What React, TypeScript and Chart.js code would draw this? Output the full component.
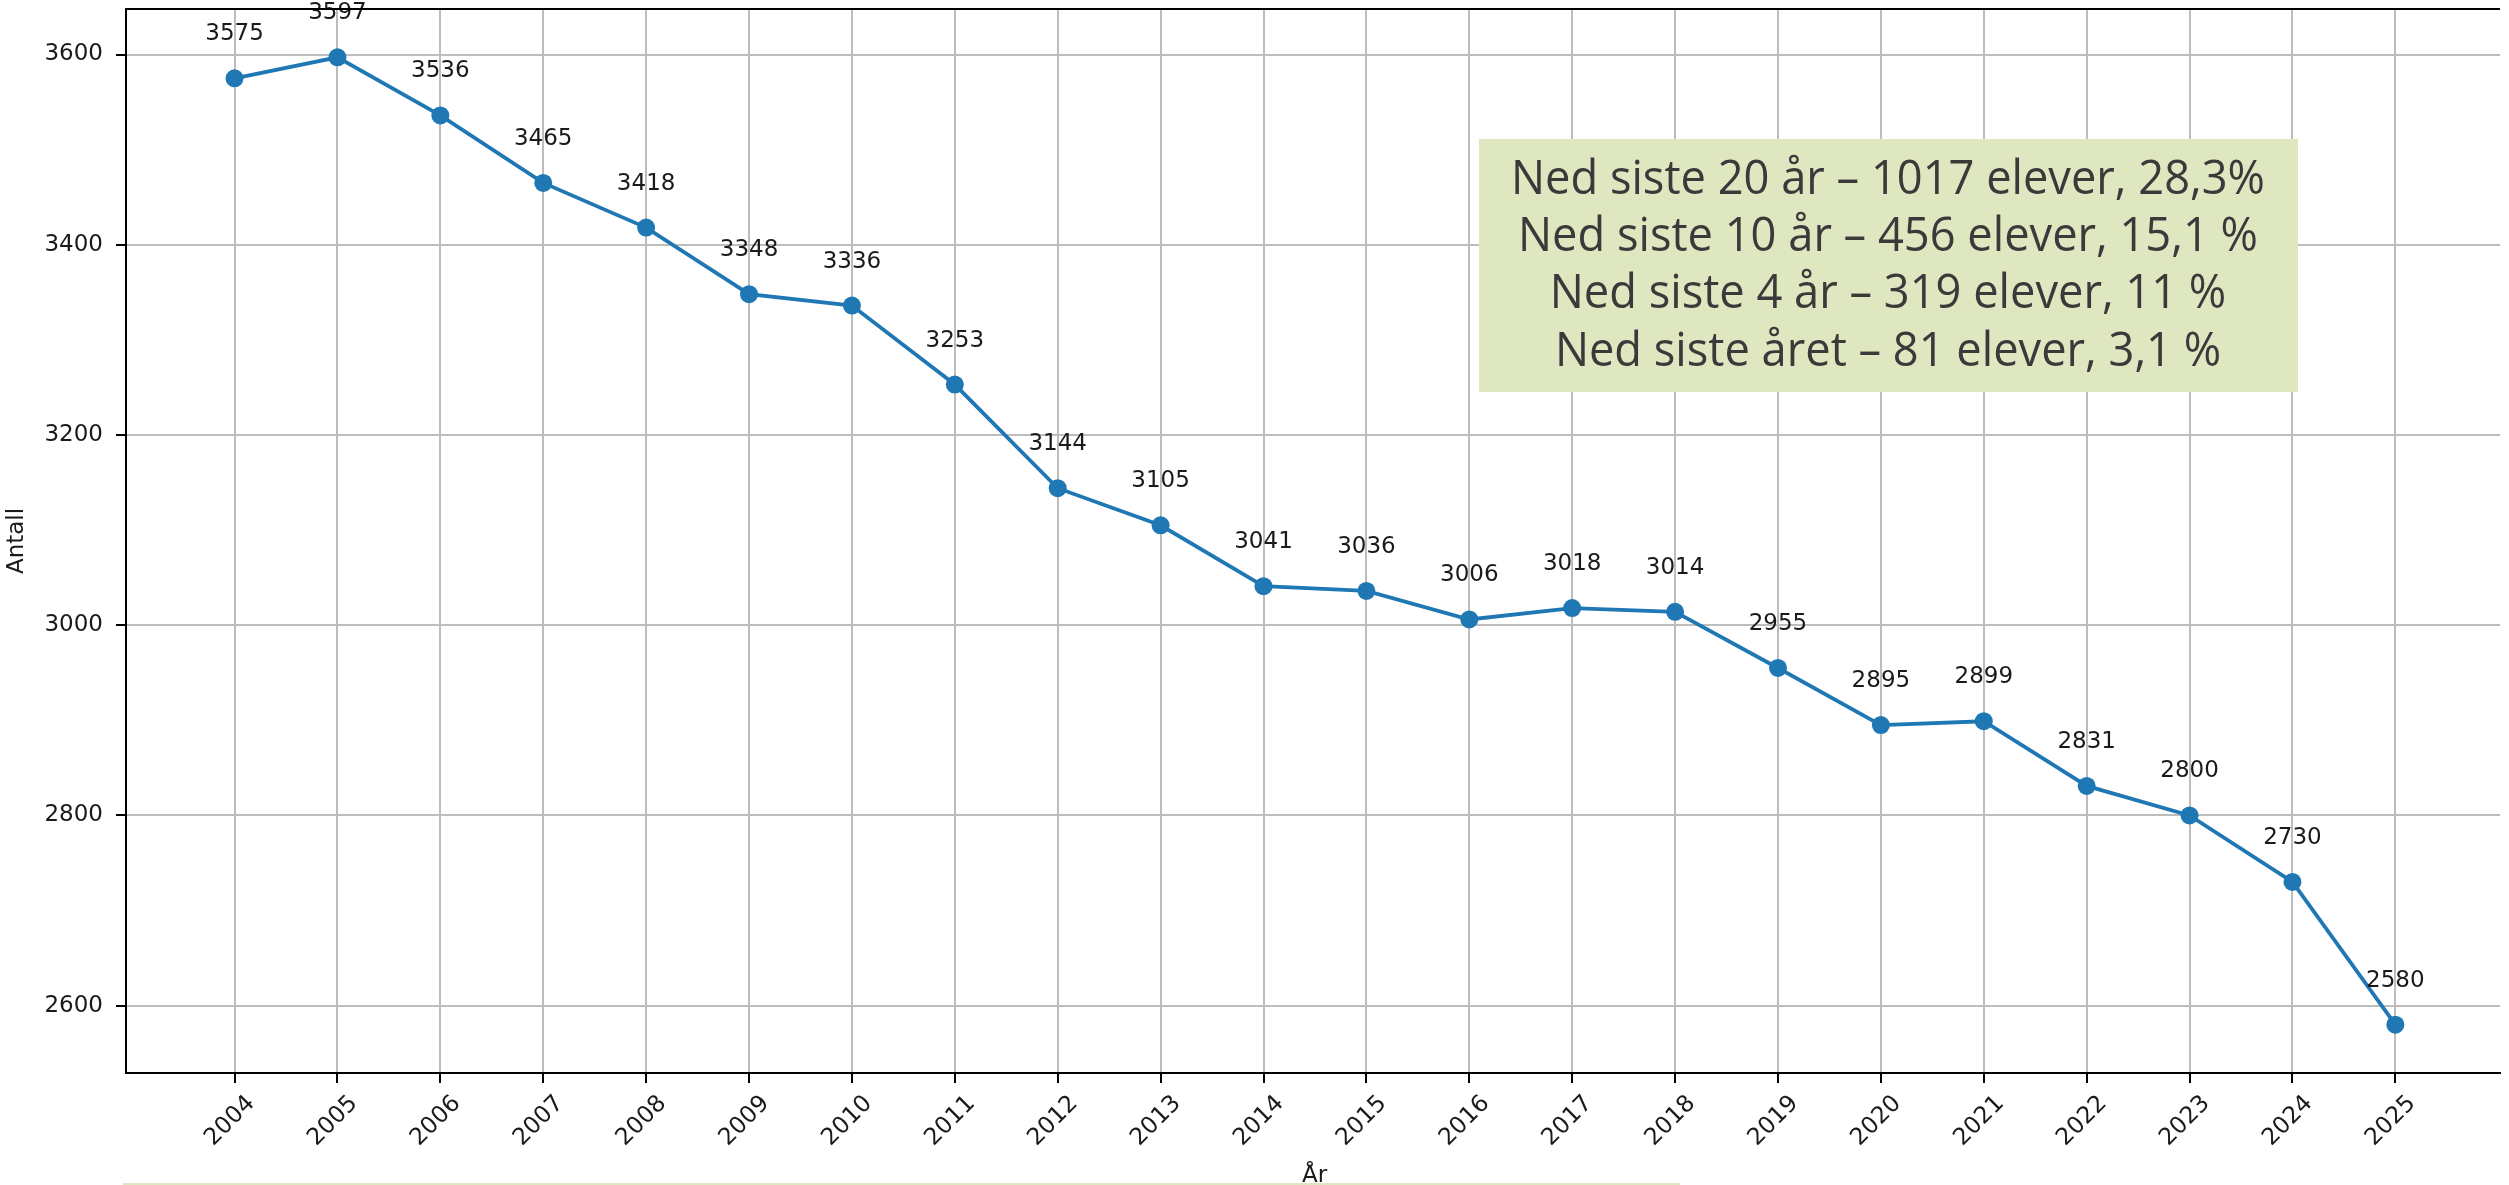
import React, { useEffect, useRef } from 'react';
import { Chart, registerables } from 'chart.js';

Chart.register(...registerables);

const years = [2004, 2005, 2006, 2007, 2008, 2009, 2010, 2011, 2012, 2013, 2014, 2015, 2016, 2017, 2018, 2019, 2020, 2021, 2022, 2023, 2024, 2025];
const students = [3575, 3597, 3536, 3465, 3418, 3348, 3336, 3253, 3144, 3105, 3041, 3036, 3006, 3018, 3014, 2955, 2895, 2899, 2831, 2800, 2730, 2580];
const yTickValues = [2600, 2800, 3000, 3200, 3400, 3600];
const infoLines = [
  'Ned siste 20 år – 1017 elever, 28,3%',
  'Ned siste 10 år – 456 elever, 15,1 %',
  'Ned siste 4 år – 319 elever, 11 %',
  'Ned siste året – 81 elever, 3,1 %',
];
const xTitle = 'År';
const yTitle = 'Antall';

const FONT = '"DejaVu Sans", sans-serif';
const TEXT = '#1a1a1a';

const overlayPlugin = {
  id: 'overlay',
  afterDatasetsDraw(chart: any) {
    const ctx = chart.ctx as CanvasRenderingContext2D;
    const meta = chart.getDatasetMeta(0);
    ctx.save();
    ctx.font = `23px ${FONT}`;
    ctx.fillStyle = TEXT;
    ctx.textAlign = 'center';
    ctx.textBaseline = 'alphabetic';
    meta.data.forEach((pt: any, i: number) => {
      ctx.fillText(String(students[i]), pt.x, pt.y - 38);
    });
    ctx.restore();
  },
  afterDraw(chart: any) {
    const ctx = chart.ctx as CanvasRenderingContext2D;
    const area = chart.chartArea;
    const xs = chart.scales.x;
    ctx.save();
    // top spine
    ctx.fillStyle = '#000';
    ctx.fillRect(area.left - 1, area.top - 1, area.right - area.left + 1, 2);

    // rotated x tick labels (centered under tick)
    ctx.font = `23.5px ${FONT}`;
    ctx.fillStyle = TEXT;
    ctx.textAlign = 'center';
    ctx.textBaseline = 'middle';
    years.forEach((yr) => {
      const px = xs.getPixelForValue(yr);
      ctx.save();
      ctx.translate(px - 4.5, area.bottom + 48);
      ctx.rotate(-Math.PI / 4);
      ctx.fillText(String(yr), 0, 0);
      ctx.restore();
    });

    // axis titles
    ctx.font = `23px ${FONT}`;
    ctx.textAlign = 'center';
    ctx.textBaseline = 'alphabetic';
    ctx.fillText(xTitle, (area.left + xs.getPixelForValue(2026.05)) / 2, 1182);
    ctx.save();
    ctx.translate(17, (area.top + area.bottom) / 2);
    ctx.rotate(-Math.PI / 2);
    ctx.textBaseline = 'middle';
    ctx.fillText(yTitle, 0, 0);
    ctx.restore();

    // info box
    ctx.fillStyle = '#dfe7c1';
    ctx.fillRect(1479, 139, 819, 253);
    ctx.fillStyle = '#3a3a3a';
    ctx.font = '47px "Open Sans", sans-serif';
    ctx.textAlign = 'center';
    ctx.textBaseline = 'alphabetic';
    const sx = 754 / ctx.measureText(infoLines[0]).width;
    const baselines = [194, 251, 308, 366];
    infoLines.forEach((line, i) => {
      ctx.save();
      ctx.translate(1888, baselines[i]);
      ctx.scale(sx, 1);
      ctx.fillText(line, 0, 0);
      ctx.restore();
    });

    // cut-off box at the bottom edge
    ctx.fillStyle = '#dfe7c1';
    ctx.fillRect(123, 1183, 1557, 2);
    ctx.restore();
  },
};

export default function App() {
  const canvasRef = useRef<HTMLCanvasElement | null>(null);

  useEffect(() => {
    document.body.style.margin = '0';
    document.body.style.overflow = 'hidden';
    const canvas = canvasRef.current;
    if (!canvas) return;
    const chart = new Chart(canvas, {
      type: 'line',
      data: {
        datasets: [
          {
            label: 'Antall',
            data: years.map((y, i) => ({ x: y, y: students[i] })),
            borderColor: '#1f77b4',
            backgroundColor: '#1f77b4',
            borderWidth: 3.8,
            pointRadius: 9,
            pointBackgroundColor: '#1f77b4',
            pointBorderWidth: 0,
            tension: 0,
            fill: false,
          },
        ],
      },
      options: {
        responsive: false,
        animation: false,
        devicePixelRatio: 1,
        layout: { padding: { top: 8, left: 0, right: 0, bottom: 0 } },
        plugins: {
          legend: { display: false },
          tooltip: { enabled: false },
          title: { display: false },
        },
        scales: {
          x: {
            type: 'linear',
            min: 2002.945,
            max: 2026.017,
            afterBuildTicks: (s: any) => {
              s.ticks = years.map((v) => ({ value: v }));
            },
            afterFit: (s: any) => {
              s.height = 112;
              s.paddingLeft = 0;
              s.paddingRight = 0;
            },
            ticks: { display: false, autoSkip: false },
            grid: {
              color: '#bdbdbd',
              lineWidth: 2,
              drawTicks: true,
              tickLength: 10,
              tickColor: '#000',
              tickWidth: 2,
            },
            border: { display: true, color: '#000', width: 2 },
          },
          y: {
            type: 'linear',
            min: 2529.15,
            max: 3647.85,
            afterBuildTicks: (s: any) => {
              s.ticks = yTickValues.map((v) => ({ value: v }));
            },
            afterFit: (s: any) => {
              s.width = 126;
              s.paddingTop = 0;
              s.paddingBottom = 0;
            },
            ticks: {
              autoSkip: false,
              padding: 13,
              color: TEXT,
              font: { family: '"DejaVu Sans", sans-serif', size: 23 },
              callback: (v: any) => String(v),
            },
            grid: {
              color: '#bdbdbd',
              lineWidth: 2,
              drawTicks: true,
              tickLength: 10,
              tickColor: '#000',
              tickWidth: 2,
            },
            border: { display: true, color: '#000', width: 2 },
          },
        },
      },
      plugins: [overlayPlugin],
    });
    return () => chart.destroy();
  }, []);

  return (
    <div style={{ width: 2509, height: 1185, background: '#fff' }}>
      <canvas ref={canvasRef} width={2509} height={1185} style={{ display: 'block' }} />
    </div>
  );
}
